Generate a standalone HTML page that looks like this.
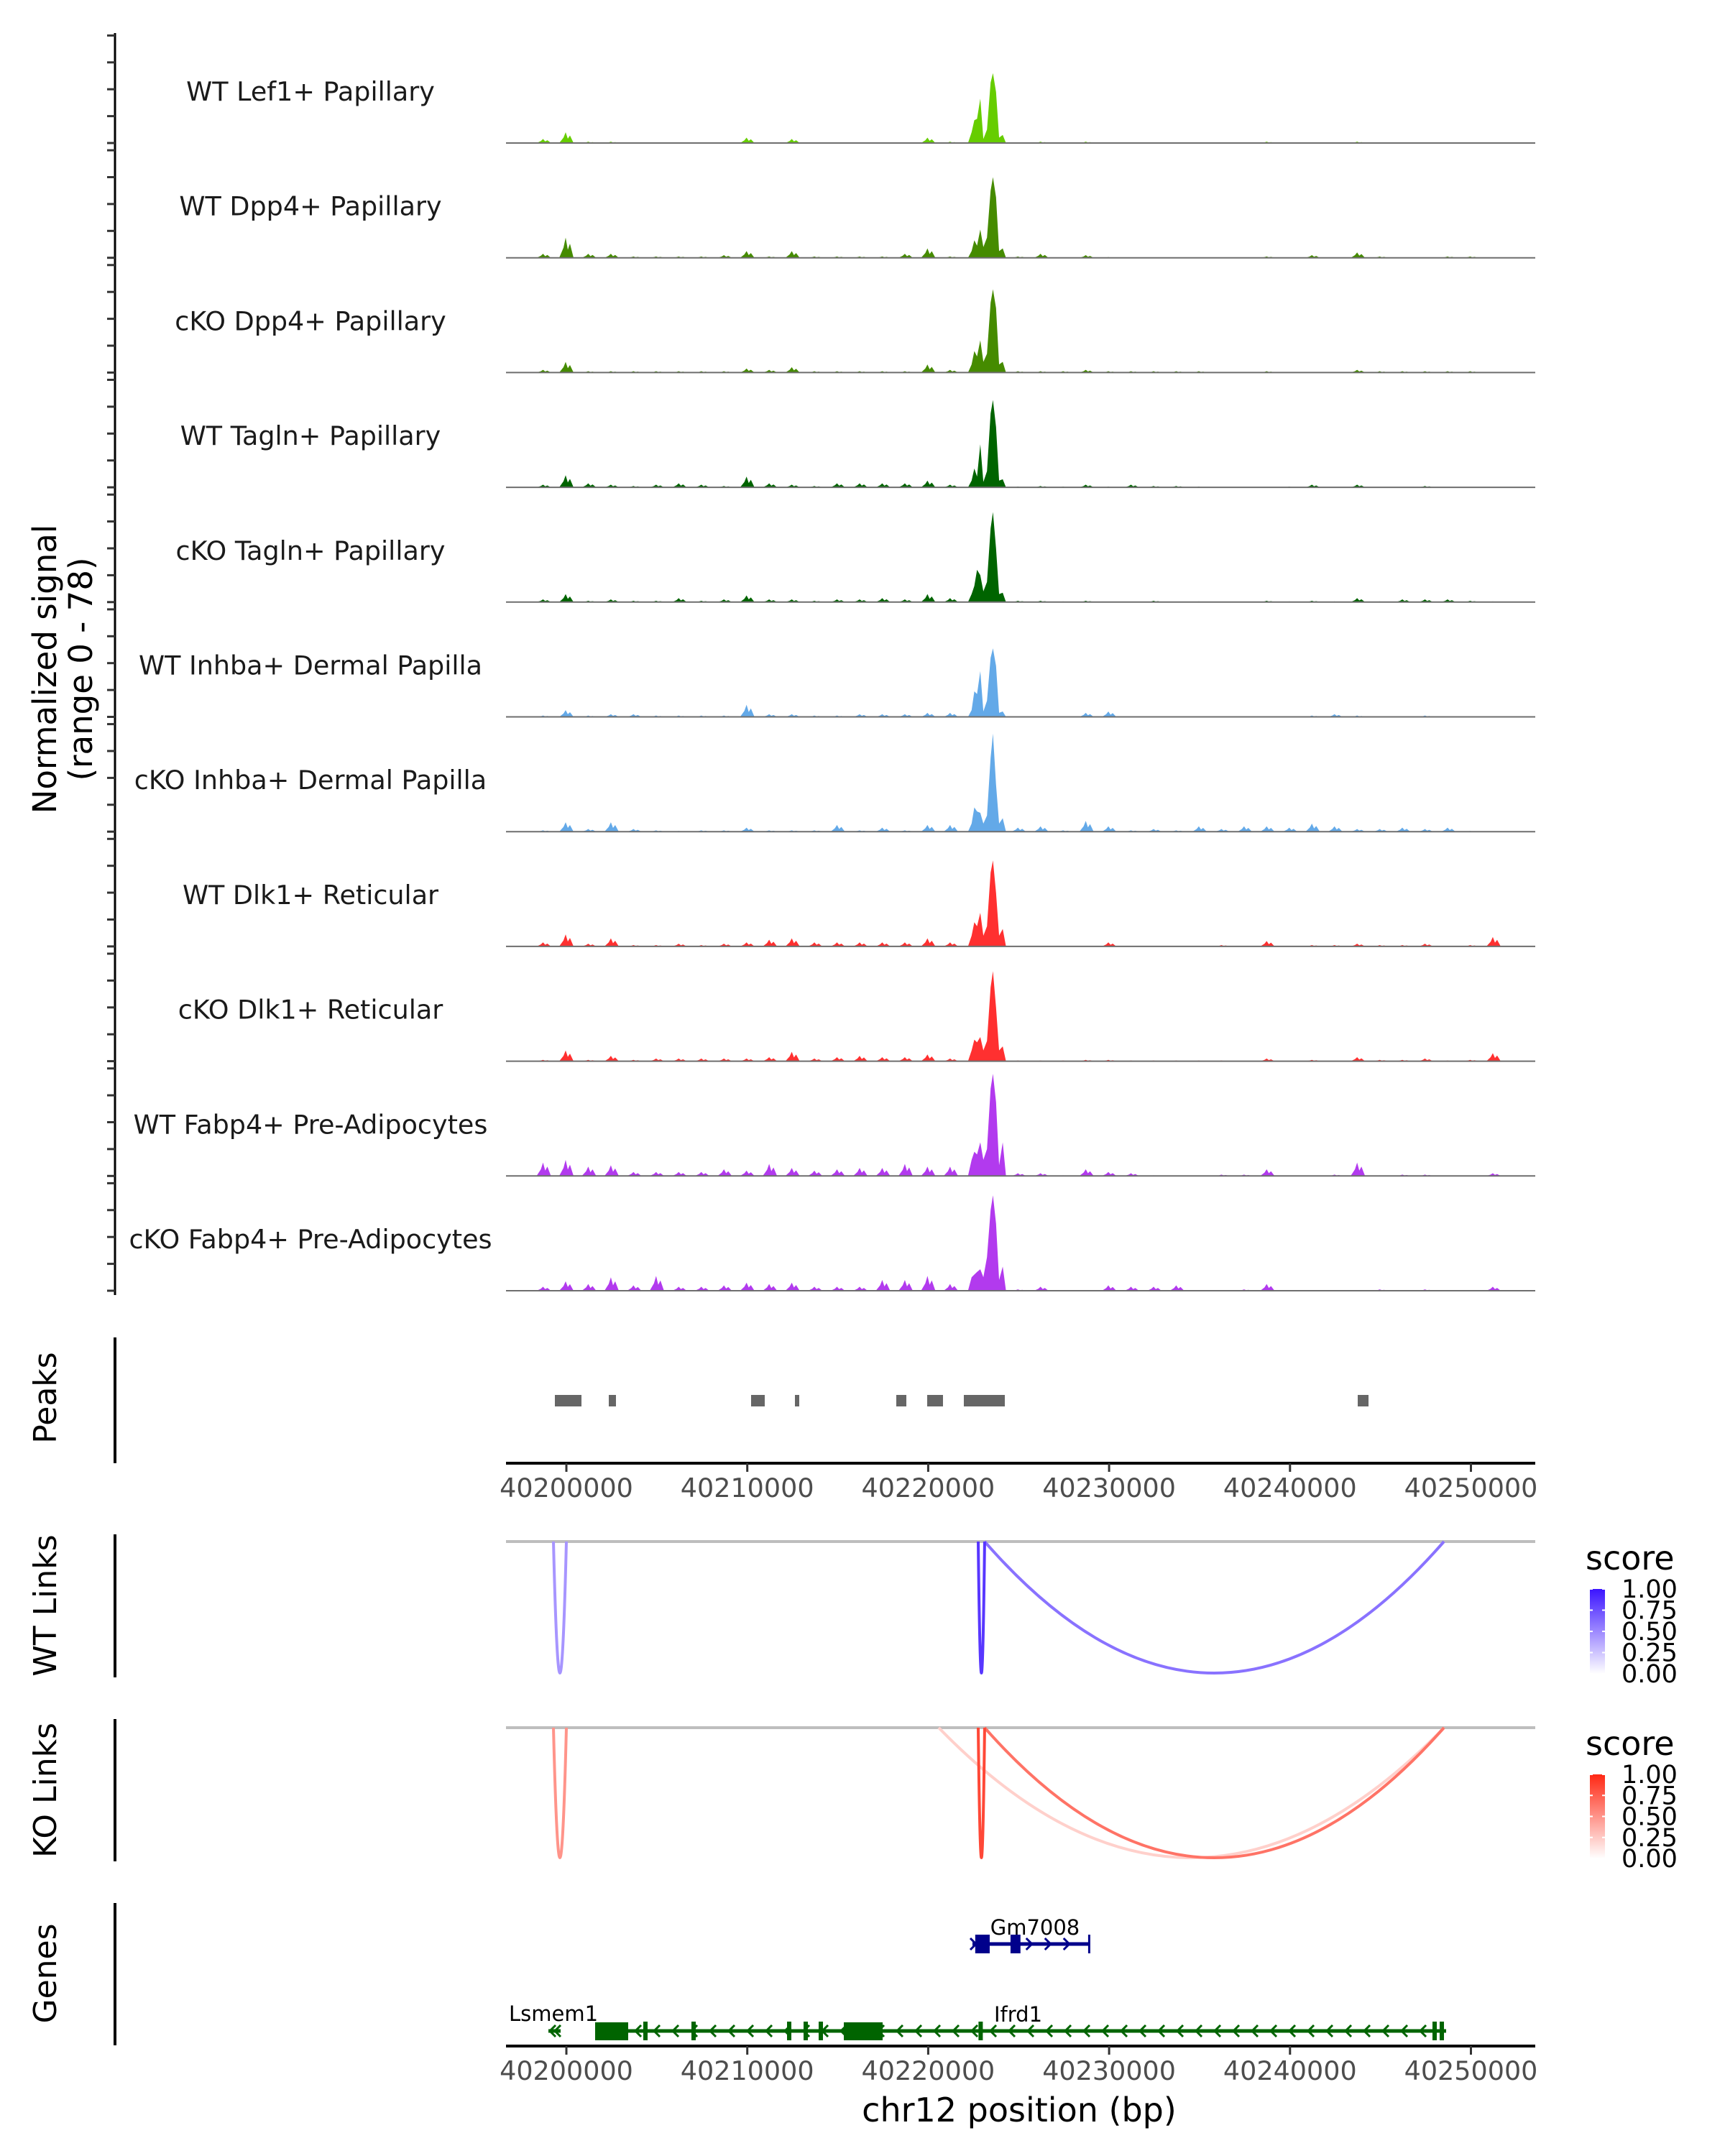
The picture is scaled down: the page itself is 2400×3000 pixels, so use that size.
<!DOCTYPE html>
<html><head><meta charset="utf-8">
<style>
html,body{margin:0;padding:0;background:#fff;}
svg{display:block;font-family:"DejaVu Sans","Liberation Sans",sans-serif;}
</style></head>
<body>
<svg id="chart" width="2400" height="3000" viewBox="0 0 2400 3000" xmlns="http://www.w3.org/2000/svg">
<rect x="0" y="0" width="2400" height="3000" fill="#fff"/>
</svg>
<script>
// ---------- data ----------
const trackNames = ["WT Lef1+ Papillary","WT Dpp4+ Papillary","cKO Dpp4+ Papillary","WT Tagln+ Papillary","cKO Tagln+ Papillary","WT Inhba+ Dermal Papilla","cKO Inhba+ Dermal Papilla","WT Dlk1+ Reticular","cKO Dlk1+ Reticular","WT Fabp4+ Pre-Adipocytes","cKO Fabp4+ Pre-Adipocytes"];
const trackColors = ["#66cd00","#458b00","#458b00","#006400","#006400","#63a9e8","#63a9e8","#ff3030","#ff3030","#b23aee","#b23aee"];
const corePos = [40222200,40222400,40222550,40222700,40222880,40223050,40223250,40223450,40223580,40223750,40223920,40224120,40224300];
const core1 = [0,8,17,18,33,3,10,45,52,38,4,6,0];
const core2 = [0,5,13,9,21,8,15,50,60,45,5,7,0];
const core3 = [0,6,16,12,24,8,14,52,62,48,6,8,0];
const core4 = [0,5,14,8,32,4,12,55,65,45,5,6,0];
const core5 = [0,6,12,24,20,8,15,55,67,40,6,7,0];
const core6 = [0,5,19,17,34,4,12,44,51,38,3,4,0];
const core7 = [0,6,18,15,14,6,12,55,73,35,6,10,0];
const core8 = [0,8,18,15,25,8,15,55,64,40,8,13,0];
const core9 = [0,8,16,14,18,8,15,55,67,40,8,11,0];
const core10 = [0,12,18,16,25,12,20,65,76,55,8,25,0];
const core11 = [0,10,12,14,16,10,25,60,71,50,8,18,0];
const bgPos = [40197500,40198750,40200000,40201250,40202500,40203750,40205000,40206250,40207500,40208750,40210000,40211250,40212500,40213750,40215000,40216250,40217500,40218750,40220000,40221250,40222500,40223750,40225000,40226250,40227500,40228750,40230000,40231250,40232500,40233750,40235000,40236250,40237500,40238750,40240000,40241250,40242500,40243750,40245000,40246250,40247500,40248750,40250000,40251250,40252500];
const bg1 = [0,3,8,1,1,0.5,0.5,0.5,0.5,0.5,4,0.5,3,0.5,0.5,0.5,0.5,0.5,4,1,0,0,0,1,0.3,1,0.3,0.3,0.3,0.3,0.3,0.3,0.3,1,0.3,0.5,0.5,1,0.3,0.3,0.5,0.5,0,0,0];
const bg2 = [0,3,15,3,3,1,1,1,1,2,5,1,5,1,1,1,1,3,7,1,0,0,1,3,0,2,0.5,0,0,0,0,0,0,1,0,2,0,4,1,0,0,1,1,0,0];
const bg3 = [0,2,8,1,1,1,1,1,1,1,3,2,4,1,1,1,1,1,6,2,0,0,1,1,1,2,1,1,1,1,1,0.5,0.5,1,0.5,0.5,0.5,2,1,1,1,1,1,0,0];
const bg4 = [0,2,9,3,2,1,2,3,2,1,8,3,2,1,3,3,3,3,5,2,0,0,0.5,1,0.5,2,0.5,2,1,1,0.5,0.3,0.3,0.3,0.5,2,0.3,2,0.3,0.3,1,0.3,0.3,0,0];
const bg5 = [0,2,6,1,2,1,1,3,1,2,5,2,2,1,2,2,3,2,6,3,0,0,1,1,0.5,1,0.3,0.3,1,0.3,0.5,0.3,0.3,1,0.5,1,0.5,3,0.5,2,2,2,1,0.5,0];
const bg6 = [0,1,5,1,2,2,1,1,1,1,9,2,2,1,1,2,2,2,3,3,0,0,0.3,0.3,0.5,3,4,0.3,0.3,0.3,0.3,0.5,0.3,0.5,0.5,1,2,1,0.3,0.3,1,0.3,0.3,0,0];
const bg7 = [0,1,7,2,7,2,1,0.5,1,1,3,1,1,1,5,1,3,1,5,5,0,0,3,4,1,8,4,1,2,1,4,2,4,4,3,6,4,2,2,3,2,3,0.5,0,0];
const bg8 = [0,3,9,2,6,1,1,2,1,2,3,5,6,3,3,3,3,3,6,3,0,0,0.5,0.3,0.3,0.5,3,0.3,0.5,0.3,0.3,1,0.3,4,0.5,1,1,2,1,1,2,0.5,1,7,0];
const bg9 = [0,1,8,1,4,1,2,2,2,2,2,3,7,2,3,4,3,3,5,2,0,0,0.5,0.5,0.5,1,1,0.5,0.5,0.5,0.5,0.5,0.3,2,0.3,1,0.3,3,1,1,2,0.5,1,6,0];
const bg10 = [0,10,12,7,8,3,3,3,3,5,4,9,6,4,5,6,6,9,7,7,0,0,2,2,0.5,5,3,2,0.5,0.3,0.3,1,1,5,0.3,0.3,1,10,0.5,1,1,0.3,0.3,2,0];
const bg11 = [0,3,7,5,10,4,11,3,3,4,6,5,6,3,3,3,8,8,11,5,0,0,1,3,0.5,0.5,4,3,3,4,0.5,0.5,1,5,0.3,0.3,0.3,0.3,1,0.3,1,0.3,0.3,3,0];
const peakStarts = [40199364,40202344,40210210,40212634,40218236,40219944,40221970,40243743];
const peakEnds = [40200834,40202741,40210965,40212872,40218792,40220818,40224235,40244339];
const linkStartsWT = [40199285,40222765,40223120];
const linkEndsWT = [40200000,40223120,40248510];
const linkScoresWT = [0.45,0.85,0.6];
const linkStartsKO = [40199285,40222765,40223120,40220580];
const linkEndsKO = [40200000,40223120,40248510,40248510];
const linkScoresKO = [0.5,0.85,0.65,0.22];
const xTicks = [40200000,40210000,40220000,40230000,40240000,40250000];
const yTickValues = [0,20,40,60,80];
const legendTicks = [1.00,0.75,0.50,0.25,0.00];
const ifrd1Start = 40201589, ifrd1End = 40248630;
const ifrd1ExonStarts = [40201589,40215336];
const ifrd1ExonEnds = [40203417,40217481];
const ifrd1SmallExons = [40204370,40207032,40212316,40213230,40214064,40222900,40247994,40248391];
const gmStart = 40222447, gmEnd = 40228900;
const gmExonStarts = [40222600,40224550];
const gmExonEnds = [40223400,40225100];
const lsmemStart = 40199007, lsmemEnd = 40199682;

// ---------- scales ----------
const cores = [core1,core2,core3,core4,core5,core6,core7,core8,core9,core10,core11];
const bgs = [bg1,bg2,bg3,bg4,bg5,bg6,bg7,bg8,bg9,bg10,bg11];
const X0 = 704, X1 = 2136;
function xs(bp){ return 788 + (bp - 40200000) * 0.025170; }
const PXU = 1.87;
function base(i){ return 199 + 159.7 * i; }
function ys(i, v){ return base(i) - v * PXU; }

const svg = document.getElementById('chart');
const NS = 'http://www.w3.org/2000/svg';
function mk(tag, attrs, parent){
  const e = document.createElementNS(NS, tag);
  for (const k in attrs) e.setAttribute(k, attrs[k]);
  (parent || svg).appendChild(e);
  return e;
}

// ---------- left axis ----------
const axL = mk('line',{x1:160,y1:46,x2:160,y2:1802,stroke:'#000','stroke-width':3});


for (let i=0;i<11;i++){
  for (const v of yTickValues){
    const t = mk('line',{x1:149,y1:ys(i,v),x2:160,y2:ys(i,v),stroke:'#333','stroke-width':3});
    
    
  }
}
const yl = mk('text',{transform:'translate(78,931) rotate(-90)','text-anchor':'middle','font-size':45,fill:'#000'});


const yl1 = mk('tspan',{x:0,y:0},yl); yl1.textContent='Normalized signal';
const yl2 = mk('tspan',{x:0,y:50},yl); yl2.textContent='(range 0 - 78)';

// ---------- tracks ----------
for (let i=0;i<11;i++){
  const g = mk('g',{});
  
  
  const col = trackColors[i];
  for (let j=0;j<bgPos.length;j++){
    const v = bgs[i][j];
    if (v<=0) continue;
    const cx = xs(bgPos[j]);
    const p = mk('polygon',{points:`${cx-10},${base(i)} ${cx-4},${ys(i,v*0.5)} ${cx-1},${ys(i,v)} ${cx+2},${ys(i,v*0.4)} ${cx+5},${ys(i,v*0.7)} ${cx+10},${base(i)}`,fill:col},g);
    
    
  }
  let pts = `${xs(corePos[0])},${base(i)} `;
  for (let j=0;j<corePos.length;j++) pts += `${xs(corePos[j])},${ys(i,cores[i][j])} `;
  pts += `${xs(corePos[corePos.length-1])},${base(i)}`;
  const cp = mk('polygon',{points:pts,fill:col},g);
  
  
  const bl = mk('line',{x1:X0,y1:base(i),x2:X1,y2:base(i),stroke:'#6e6e6e','stroke-width':2},g);
  
  
  const lab = mk('text',{x:432,y:base(i)-59,'text-anchor':'middle','font-size':36.5,fill:'#1a1a1a'},g);
  
  
  lab.textContent = trackNames[i];
}

// ---------- panel side axes & titles ----------
const panels = [["Peaks",1861,2036,1945],["WT Links",2135,2334,2234],["KO Links",2392,2590,2491],["Genes",2648,2846,2746]];
for (const p of panels){
  const l = mk('line',{x1:160,y1:p[1],x2:160,y2:p[2],stroke:'#000','stroke-width':4});
  
  
  const t = mk('text',{transform:`translate(78,${p[3]}) rotate(-90)`,'text-anchor':'middle','font-size':44,fill:'#000'});
  
  
  t.textContent = p[0];
}

// ---------- peaks ----------
for (let j=0;j<peakStarts.length;j++){
  const r = mk('rect',{x:xs(peakStarts[j]),y:1941,width:xs(peakEnds[j])-xs(peakStarts[j]),height:16,fill:'#666'});
  
  
}

// ---------- x axes ----------
function xAxis(y, name){
  const a = mk('line',{x1:X0,y1:y,x2:X1,y2:y,stroke:'#000','stroke-width':4});
  
  
  for (const t of xTicks){
    const tk = mk('line',{x1:xs(t),y1:y,x2:xs(t),y2:y+12,stroke:'#333','stroke-width':3});
    
    
    const tl = mk('text',{x:xs(t),y:y+47,'text-anchor':'middle','font-size':36.5,fill:'#4d4d4d'});
    
    
    tl.textContent = String(t);
  }
}
xAxis(2036,'peaks-x-axis');
xAxis(2847,'genes-x-axis');
const xt = mk('text',{x:1418,y:2952,'text-anchor':'middle','font-size':46,fill:'#000'});


xt.textContent = 'chr12 position (bp)';

// ---------- links ----------
function mix(hi, s){
  const r = Math.round(255 + (hi[0]-255)*s), g = Math.round(255 + (hi[1]-255)*s), b = Math.round(255 + (hi[2]-255)*s);
  return `rgb(${r},${g},${b})`;
}
function linkPanel(y0, depth, starts, ends, scores, hi, name){
  const gl = mk('line',{x1:X0,y1:y0,x2:X1,y2:y0,stroke:'#bebebe','stroke-width':4});
  
  
  const order = scores.map((s,k)=>k).sort((a,b)=>scores[a]-scores[b]);
  for (const k of order){
    const a = xs(starts[k]), b = xs(ends[k]), m = (a+b)/2;
    const p = mk('path',{d:`M${a},${y0} Q${m},${y0+2*depth} ${b},${y0}`,fill:'none',stroke:mix(hi,scores[k]),'stroke-width':4});
    
    
  }
}
linkPanel(2145,183,linkStartsWT,linkEndsWT,linkScoresWT,[59,20,255],'wt-link');
linkPanel(2404,181,linkStartsKO,linkEndsKO,linkScoresKO,[255,40,20],'ko-link');

// ---------- legends ----------
function legend(yTitle, yTop, yBot, hi, name){
  const t = mk('text',{x:2206,y:yTitle+16,'font-size':46,fill:'#000'});
  
  
  t.textContent = 'score';
  const id = name+'-grad';
  const defs = mk('defs',{});
  const lg = mk('linearGradient',{id:id,x1:0,y1:1,x2:0,y2:0},defs);
  mk('stop',{offset:'0','stop-color':'#fff'},lg);
  mk('stop',{offset:'1','stop-color':mix(hi,1)},lg);
  const r = mk('rect',{x:2212,y:yTop,width:21,height:yBot-yTop,fill:`url(#${id})`});
  
  
  for (const v of legendTicks){
    const yy = yBot - v*(yBot-yTop);
    const tk = mk('line',{x1:2212,y1:yy,x2:2216,y2:yy,stroke:'#fff','stroke-width':2});
    
    
    const tk2 = mk('line',{x1:2229,y1:yy,x2:2233,y2:yy,stroke:'#fff','stroke-width':2});
    
    
    const l = mk('text',{x:2256,y:yy+12,'font-size':35,fill:'#000'});
    
    
    l.textContent = v.toFixed(2);
  }
}
legend(2168,2211,2329,[59,20,255],'wt-legend');
legend(2426,2469,2586,[255,40,20],'ko-legend');

// ---------- genes ----------
function chevrons(a, b, y, dir, col, step, g){
  for (let x=a; x<=b; x+=step){
    const d = dir<0 ? `M${x+6},${y-8} L${x-2},${y} L${x+6},${y+8}` : `M${x-6},${y-8} L${x+2},${y} L${x-6},${y+8}`;
    const c = mk('path',{d:d,fill:'none',stroke:col,'stroke-width':3},g);
    
    
  }
}
const gG = mk('g',{});


const gmCol = '#00008b';
mk('line',{x1:xs(gmStart),y1:2705,x2:xs(gmEnd),y2:2705,stroke:gmCol,'stroke-width':5},gG);
for (let k=0;k<gmExonStarts.length;k++){
  const e = mk('rect',{x:xs(gmExonStarts[k]),y:2692,width:xs(gmExonEnds[k])-xs(gmExonStarts[k]),height:26,fill:gmCol},gG);
  
  
}
mk('line',{x1:xs(gmEnd),y1:2692,x2:xs(gmEnd),y2:2718,stroke:gmCol,'stroke-width':3},gG);
chevrons(xs(gmStart)+3,xs(gmStart)+3,2705,1,gmCol,26,gG);
chevrons(xs(gmExonEnds[1])+14,xs(gmEnd)-4,2705,1,gmCol,26,gG);
const gmT = mk('text',{x:1440,y:2692,'text-anchor':'middle','font-size':29,fill:'#000'});


gmT.textContent = 'Gm7008';
const gI = mk('g',{});


const gCol = '#006400';
mk('line',{x1:xs(ifrd1Start),y1:2826,x2:xs(ifrd1End),y2:2826,stroke:gCol,'stroke-width':5},gI);
chevrons(xs(ifrd1ExonEnds[0])+12,xs(ifrd1End)-20,2826,-1,gCol,26,gI);
for (let k=0;k<ifrd1ExonStarts.length;k++){
  const e = mk('rect',{x:xs(ifrd1ExonStarts[k]),y:2814,width:xs(ifrd1ExonEnds[k])-xs(ifrd1ExonStarts[k]),height:25,fill:gCol},gI);
  
  
}
for (const s of ifrd1SmallExons){
  const e = mk('rect',{x:xs(s)-3,y:2813,width:6,height:26,fill:gCol},gI);
  
  
}
const ifT = mk('text',{x:1383,y:2813,'font-size':29,fill:'#000'});


ifT.textContent = 'Ifrd1';
const gL = mk('g',{});


mk('line',{x1:xs(lsmemStart),y1:2826,x2:xs(lsmemEnd),y2:2826,stroke:gCol,'stroke-width':5},gL);
chevrons(xs(lsmemStart)+4,xs(lsmemStart)+4,2826,-1,gCol,26,gL);
chevrons(xs(lsmemEnd)-6,xs(lsmemEnd)-6,2826,-1,gCol,26,gL);
const lsT = mk('text',{x:708,y:2812,'font-size':29,fill:'#000'});


lsT.textContent = 'Lsmem1';
</script>
</body></html>
